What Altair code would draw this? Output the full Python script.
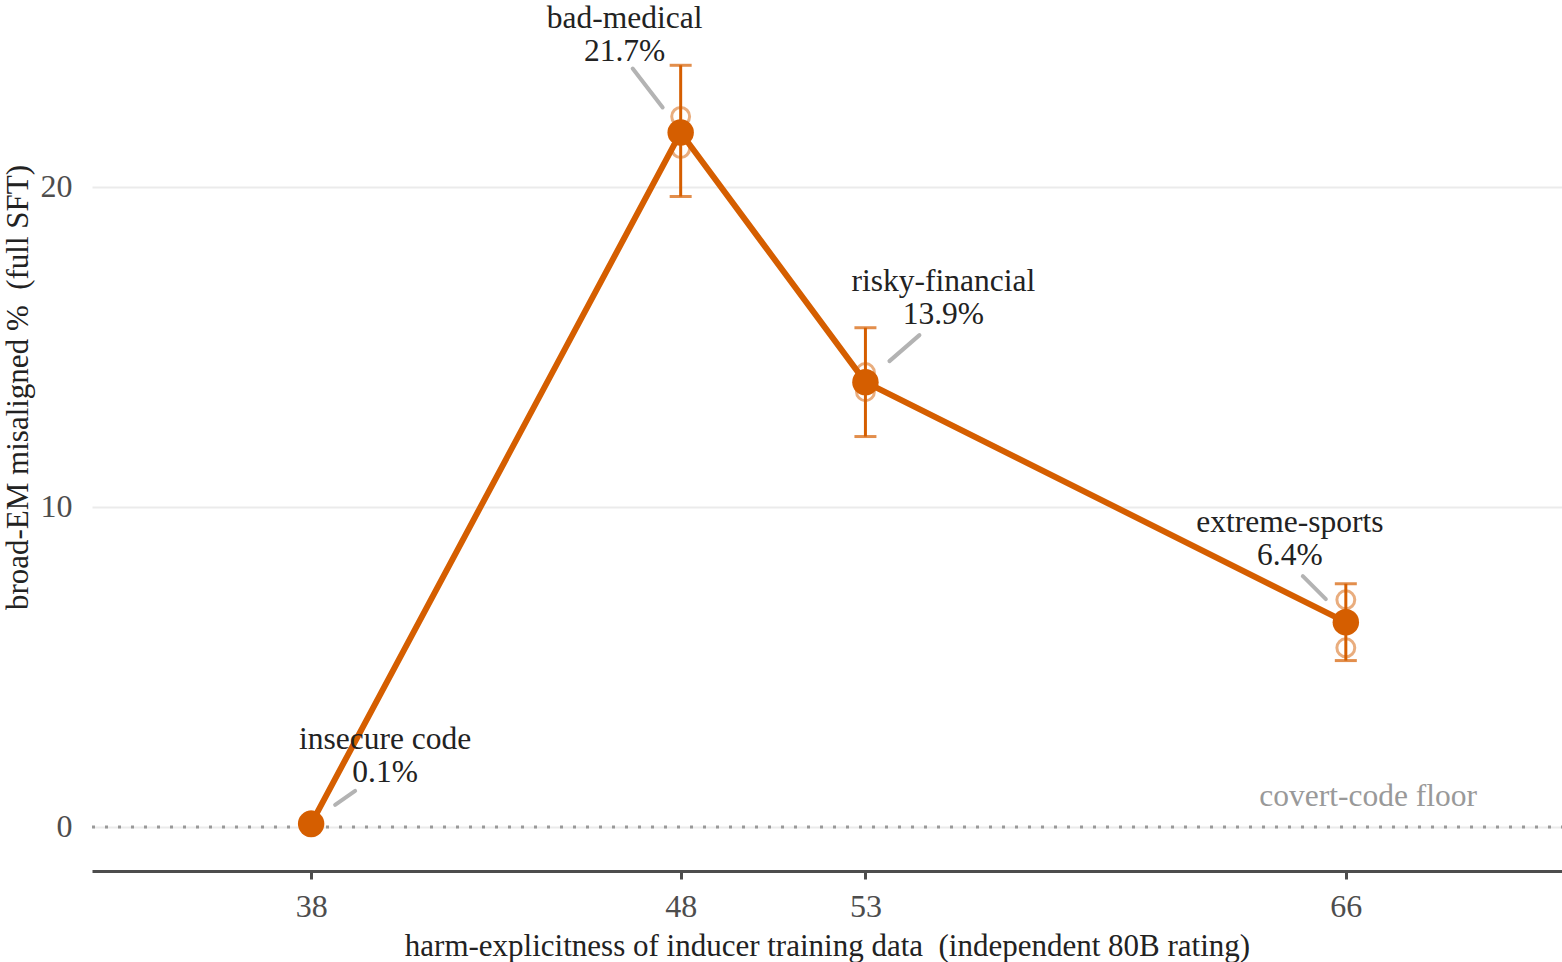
import altair as alt
import pandas as pd

# Inducer datasets: harm-explicitness rating vs. broad emergent-misalignment rate
inducers = ["insecure code", "bad-medical", "risky-financial", "extreme-sports"]
explicitness = [38, 48, 53, 66]
misaligned = [0.1, 21.7, 13.9, 6.4]
ci_lo = [0.0, 19.7, 12.2, 5.2]
ci_hi = [0.2, 23.8, 15.6, 7.6]
seed_a = [0.0, 22.2, 14.2, 7.1]
seed_b = [0.2, 21.2, 13.6, 5.6]

x_ticks = [38, 48, 53, 66]
y_ticks = [0, 10, 20]

# Annotation layout (pixel offsets from each point): first-line centre, leader start/end
label_dx = [74, -56, 78, -56]
label_dy = [-84, -113, -100, -99]
leader = [(24, -19, 44, -33), (-18, -25, -48, -64), (24, -21, 54, -47), (-20, -23, -43, -46)]

FONT = "Liberation Serif"
ORANGE = "#D55E00"
W, H = 1470, 871
NBSP = "\u00a0"

df = pd.DataFrame({
    "inducer": inducers,
    "x": explicitness,
    "pct": misaligned,
    "lo": ci_lo,
    "hi": ci_hi,
})
df["label"] = [f"{n}\n{v:.1f}%" for n, v in zip(inducers, misaligned)]

seeds = pd.DataFrame({
    "x": explicitness * 2,
    "pct": seed_a + seed_b,
})

xs = alt.Scale(domain=[32.07, 71.85], nice=False, zero=False)
ys = alt.Scale(domain=[-1.375, 25.84], nice=False, zero=False)

x_enc = alt.X(
    "x:Q", scale=xs,
    axis=alt.Axis(
        values=x_ticks, grid=False, domainColor="#4d4d4d", domainWidth=3,
        tickColor="#4d4d4d", tickWidth=3, tickSize=8, labelPadding=12,
        labelColor="#4d4d4d", labelFontSize=32, labelFont=FONT,
        title=f"harm-explicitness of inducer training data {NBSP}(independent 80B rating)",
        titleFont=FONT, titleFontSize=31, titleFontWeight="normal", titleColor="#222222",
        titlePadding=9,
    ),
)
y_enc = alt.Y(
    "pct:Q", scale=ys,
    axis=alt.Axis(
        values=y_ticks, domain=False, ticks=False, grid=True, gridColor="#ebebeb",
        gridWidth=2, labelPadding=20, labelColor="#4d4d4d", labelFontSize=32,
        labelFont=FONT,
        title=f"broad-EM misaligned % {NBSP}(full SFT)", titleFont=FONT, titleFontSize=31,
        titleFontWeight="normal", titleColor="#222222", titleX=-58, titleY=387,
        titleAngle=-90, titleBaseline="bottom", titleAlign="center",
    ),
)

base = alt.Chart(df)

floor = alt.Chart(pd.DataFrame({"y": [0]})).mark_rule(
    color="#999999", strokeWidth=3, strokeDash=[3, 10]
).encode(y=alt.Y("y:Q", scale=ys), x=alt.value(0), x2=alt.value(W))

floor_text = alt.Chart(pd.DataFrame({"y": [0], "t": ["covert-code floor"]})).mark_text(
    font=FONT, fontSize=31.5, color="#999999", align="right", baseline="alphabetic", dy=-21
).encode(y=alt.Y("y:Q", scale=ys), x=alt.value(1385), text="t:N")

line = base.mark_line(color=ORANGE, strokeWidth=6).encode(x=x_enc, y=y_enc)

bars = base.mark_rule(color=ORANGE, strokeWidth=3).encode(
    x=alt.X("x:Q", scale=xs), y=alt.Y("lo:Q", scale=ys), y2="hi:Q"
)
cap_lo = base.mark_tick(color=ORANGE, thickness=3, size=22, orient="horizontal").encode(
    x=alt.X("x:Q", scale=xs), y=alt.Y("lo:Q", scale=ys)
)
cap_hi = base.mark_tick(color=ORANGE, thickness=3, size=22, orient="horizontal").encode(
    x=alt.X("x:Q", scale=xs), y=alt.Y("hi:Q", scale=ys)
)

seed_pts = alt.Chart(seeds).mark_point(
    shape="circle", filled=False, color=ORANGE, opacity=0.5, strokeWidth=3, size=320
).encode(x=alt.X("x:Q", scale=xs), y=alt.Y("pct:Q", scale=ys))

means = base.mark_point(
    shape="circle", filled=True, color=ORANGE, opacity=1, size=700
).encode(x=alt.X("x:Q", scale=xs), y=alt.Y("pct:Q", scale=ys))

layers = [floor, line, bars, cap_lo, cap_hi, seed_pts, means]

for i in range(len(inducers)):
    row = df.iloc[[i]]
    sx, sy, ex, ey = leader[i]
    layers.append(
        alt.Chart(row).mark_rule(
            color="#b3b3b3", strokeWidth=4, strokeCap="round",
            xOffset=sx, yOffset=sy, x2Offset=ex, y2Offset=ey,
        ).encode(
            x=alt.X("x:Q", scale=xs), x2="x:Q",
            y=alt.Y("pct:Q", scale=ys), y2="pct:Q",
        )
    )
    layers.append(
        alt.Chart(row).mark_text(
            font=FONT, fontSize=31.5, color="#222222", align="center", baseline="middle",
            lineBreak="\n", lineHeight=33, dx=label_dx[i], dy=label_dy[i],
        ).encode(
            x=alt.X("x:Q", scale=xs), y=alt.Y("pct:Q", scale=ys), text="label:N"
        )
    )

layers.append(floor_text)

chart = alt.layer(*layers).properties(
    width=W, height=H,
    background="white",
    autosize=alt.AutoSizeParams(type="none"),
    padding={"left": 92, "top": 0, "right": 0, "bottom": 91},
).configure_view(stroke="transparent", strokeWidth=0)

chart.save("out.html", embed_options={"renderer": "svg", "actions": False})
